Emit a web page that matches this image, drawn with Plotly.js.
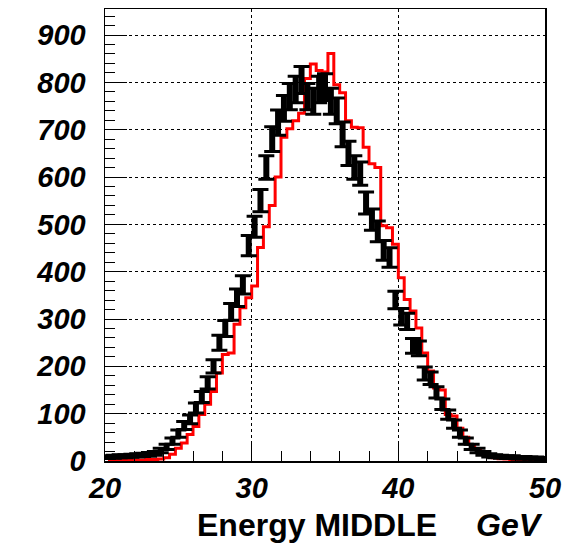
<!DOCTYPE html>
<html>
<head>
<meta charset="utf-8">
<script src="https://cdn.plot.ly/plotly-3.0.1.min.js"></script>
<style>html,body{margin:0;padding:0;background:#fff;}#plot{width:563px;height:557px;}</style>
</head>
<body>
<div id="plot"></div>
<script>
// bin centres (GeV), 0.4 GeV bins from 20 to 50
const binCenters = [
  20.2,20.6,21.0,21.4,21.8,22.2,22.6,23.0,23.4,23.8,
  24.2,24.6,25.0,25.4,25.8,26.2,26.6,27.0,27.4,27.8,
  28.2,28.6,29.0,29.4,29.8,30.2,30.6,31.0,31.4,31.8,
  32.2,32.6,33.0,33.4,33.8,34.2,34.6,35.0,35.4,35.8,
  36.2,36.6,37.0,37.4,37.8,38.2,38.6,39.0,39.4,39.8,
  40.2,40.6,41.0,41.4,41.8,42.2,42.6,43.0,43.4,43.8,
  44.2,44.6,45.0,45.4,45.8,46.2,46.6,47.0,47.4,47.8,
  48.2,48.6,49.0,49.4,49.8
];
// black data points
const dataCounts = [
  8,9,10,10,11,12,13,14,16,22,
  30,42,58,75,88,112,135,165,200,250,
  280,315,345,372,455,495,550,620,680,715,
  745,770,785,805,770,760,785,790,760,740,
  690,650,620,607,545,510,485,445,430,340,
  305,295,243,238,185,175,145,120,98,78,
  58,42,30,22,16,12,10,9,8,8,
  7,7,6,6,5
];
// red simulation histogram
const simCounts = [
  0,0,1,1,1,2,2,3,3,4,
  7,14,27,38,56,73,98,120,147,186,
  225,228,289,324,345,370,451,495,540,600,
  684,702,719,735,808,839,825,822,861,795,
  778,719,705,704,663,628,620,497,493,458,
  387,341,317,281,228,190,154,150,98,95,
  69,50,35,25,15,10,7,5,4,3,
  2,2,1,1,1
];
const xTicks = [20,30,40,50];
const yTicks = [0,100,200,300,400,500,600,700,800,900];
const xTitleMain = "Energy MIDDLE";
const xTitleUnit = "GeV";

const tickFont = {family: "Liberation Sans, Arial, sans-serif", size: 29, color: "#000", weight: "bold", style: "italic"};

const traces = [
  {
    x: binCenters, y: simCounts, type: "scatter", mode: "lines",
    line: {shape: "hvh", color: "#ff0000", width: 3},
    hoverinfo: "skip"
  },
  {
    x: binCenters, y: dataCounts, type: "scatter", mode: "markers",
    marker: {size: 1, color: "rgba(0,0,0,0)"},
    error_y: {type: "sqrt", visible: true, color: "#000", thickness: 6, width: 0},
    hoverinfo: "skip"
  },
  {
    x: binCenters, y: dataCounts, type: "scatter", mode: "markers",
    marker: {size: 1, color: "rgba(0,0,0,0)"},
    error_y: {type: "sqrt", visible: true, color: "#000", thickness: 3, width: 8},
    hoverinfo: "skip"
  }
];

const layout = {
  width: 563, height: 557,
  margin: {l: 105, r: 18, t: 9, b: 96, pad: 0},
  paper_bgcolor: "#fff", plot_bgcolor: "#fff",
  showlegend: false,
  xaxis: {
    range: [20, 50], tickvals: xTicks, ticktext: xTicks.map(String),
    ticks: "inside", ticklen: 20, tickwidth: 1, tickcolor: "#000",
    minor: {dtick: 2, tick0: 20, ticks: "inside", ticklen: 10, tickwidth: 1, tickcolor: "#000", showgrid: false},
    showgrid: true, gridcolor: "#000", griddash: "3px,3px", gridwidth: 1,
    showline: true, linecolor: "#000", linewidth: 1.5, mirror: true,
    zeroline: false, tickfont: tickFont, ticklabelstandoff: 1
  },
  yaxis: {
    range: [0, 955], tickvals: yTicks, ticktext: yTicks.map(String),
    ticks: "inside", ticklen: 22, tickwidth: 1, tickcolor: "#000",
    minor: {dtick: 20, tick0: 0, ticks: "inside", ticklen: 10, tickwidth: 1, tickcolor: "#000", showgrid: false},
    showgrid: true, gridcolor: "#000", griddash: "3px,3px", gridwidth: 1,
    showline: true, linecolor: "#000", linewidth: 1.5, mirror: true,
    zeroline: false, tickfont: tickFont, ticklabelstandoff: 12
  },
  annotations: [
    {
      text: xTitleMain, xref: "paper", yref: "paper", x: 0.2045, y: -0.1416,
      xanchor: "left", yanchor: "middle", showarrow: false,
      font: {family: "Liberation Sans, Arial, sans-serif", size: 32, color: "#000", weight: "bold"}
    },
    {
      text: xTitleUnit, xref: "paper", yref: "paper", x: 1.0, y: -0.1416,
      xanchor: "right", yanchor: "middle", showarrow: false,
      font: {family: "Liberation Sans, Arial, sans-serif", size: 32, color: "#000", weight: "bold", style: "italic"}
    }
  ]
};

Plotly.newPlot("plot", traces, layout, {staticPlot: true, displayModeBar: false});
</script>
</body>
</html>
